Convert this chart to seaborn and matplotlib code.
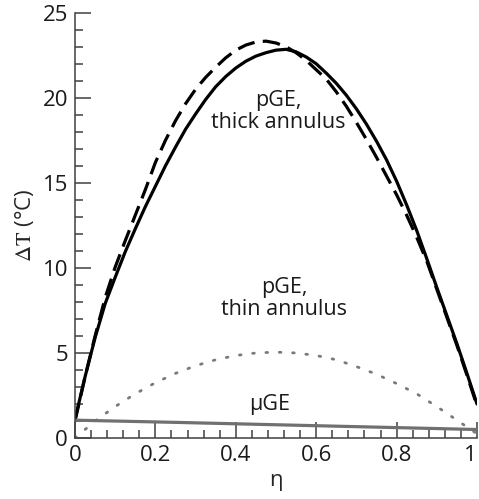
import numpy as np
import pandas as pd
import seaborn as sns
import matplotlib.pyplot as plt
from matplotlib.ticker import MultipleLocator

# values
eta = [0.0, 0.025, 0.05, 0.075, 0.1, 0.125, 0.15, 0.175, 0.2, 0.225,
       0.25, 0.275, 0.3, 0.325, 0.35, 0.375, 0.4, 0.425, 0.45, 0.475,
       0.5, 0.525, 0.55, 0.575, 0.6, 0.625, 0.65, 0.675, 0.7, 0.725,
       0.75, 0.775, 0.8, 0.825, 0.85, 0.875, 0.9, 0.925, 0.95, 0.975, 1.0]
thick_solid = [1.1, 3.6, 5.9, 7.9, 9.45, 10.95, 12.3, 13.6, 14.8, 16.0,
               17.1, 18.15, 19.05, 19.9, 20.65, 21.25, 21.75, 22.15, 22.45, 22.65,
               22.8, 22.85, 22.7, 22.4, 22.0, 21.45, 20.85, 20.15, 19.35, 18.45,
               17.45, 16.35, 15.1, 13.7, 12.2, 10.55, 8.85, 7.2, 5.55, 3.8, 2.0]
thick_dashed = [1.0, 3.6, 6.0, 8.25, 10.05, 11.6, 13.1, 14.6, 16.2, 17.5,
                18.65, 19.65, 20.5, 21.2, 21.8, 22.35, 22.8, 23.1, 23.28, 23.33,
                23.22, 23.0, 22.65, 22.2, 21.65, 21.1, 20.35, 19.5, 18.55, 17.55,
                16.5, 15.4, 14.3, 13.1, 11.8, 10.4, 8.75, 7.1, 5.45, 3.7, 1.9]

eta_thin = [0.0, 0.05, 0.1, 0.15, 0.2, 0.25, 0.3, 0.35, 0.4, 0.45, 0.5,
            0.55, 0.6, 0.65, 0.7, 0.75, 0.8, 0.85, 0.9, 0.95, 1.0]
thin_dotted = [0.0, 1.0, 1.85, 2.6, 3.25, 3.8, 4.25, 4.6, 4.85, 5.0, 5.05,
               5.0, 4.85, 4.6, 4.2, 3.75, 3.2, 2.6, 1.85, 1.05, 0.25]

mu_eta = [0.0, 0.25, 0.5, 0.75, 1.0]
mu_ge = [1.05, 0.92, 0.78, 0.64, 0.5]

x_ticks = [0, 0.2, 0.4, 0.6, 0.8, 1.0]
x_ticklabels = ['0', '0.2', '0.4', '0.6', '0.8', '1']

thick = pd.DataFrame({'eta': eta, 'solid': thick_solid, 'dashed': thick_dashed})
thin = pd.DataFrame({'eta': eta_thin, 'dT': thin_dotted})
mu = pd.DataFrame({'eta': mu_eta, 'dT': mu_ge})

sns.set_style('ticks')
plt.rcParams['font.family'] = ['Open Sans', 'DejaVu Sans']
plt.rcParams['mathtext.fontset'] = 'stix'

fig = plt.figure(figsize=(4.79, 4.99), dpi=100)
ax = fig.add_axes([0.1566, 0.1222, 0.8392, 0.8523])

sns.lineplot(x='eta', y='solid', data=thick, ax=ax, color='black', lw=2.3)
sns.lineplot(x='eta', y='dashed', data=thick, ax=ax, color='black', lw=2.3)
ax.lines[-1].set_dashes([5.5, 2.6])
sns.lineplot(x='eta', y='dT', data=thin, ax=ax, color='#7a7a7a', lw=2.0)
ax.lines[-1].set_dashes([0.6, 4.2])
ax.lines[-1].set_dash_capstyle('round')
sns.lineplot(x='eta', y='dT', data=mu, ax=ax, color='#707070', lw=2.3)

ax.set_xlim(0, 1)
ax.set_ylim(0, 25)
ax.set_xticks(x_ticks, x_ticklabels)
ax.xaxis.set_minor_locator(MultipleLocator(0.04))
ax.yaxis.set_major_locator(MultipleLocator(5))
ax.yaxis.set_minor_locator(MultipleLocator(1))

ax.tick_params(which='both', direction='in', color='#404040', width=1.1, labelsize=16,
               labelcolor='#1a1a1a')
ax.tick_params(which='major', length=11.5, pad=5)
ax.tick_params(which='minor', length=5.8)
for s in ['top', 'right']:
    ax.spines[s].set_visible(False)
for s in ['left', 'bottom']:
    ax.spines[s].set_color('#404040')
    ax.spines[s].set_linewidth(1.1)

# keep the "1" at the right edge inside the picture
ax.get_xticklabels()[-1].set_horizontalalignment('right')

ax.set_xlabel('η', fontsize=16, labelpad=3)
ax.set_ylabel(r'$\mathrm{\Delta T}$ (°C)', fontsize=16, labelpad=5)

ax.text(0.505, 19.2, 'pGE,\nthick annulus', ha='center', va='center', fontsize=15.5,
        linespacing=1.1, color='#1a1a1a')
ax.text(0.52, 8.2, 'pGE,\nthin annulus', ha='center', va='center', fontsize=15.5,
        linespacing=1.1, color='#1a1a1a')
ax.text(0.485, 1.95, 'μGE', ha='center', va='center', fontsize=15.5, color='#1a1a1a')

fig.savefig('out.png', dpi=100)
